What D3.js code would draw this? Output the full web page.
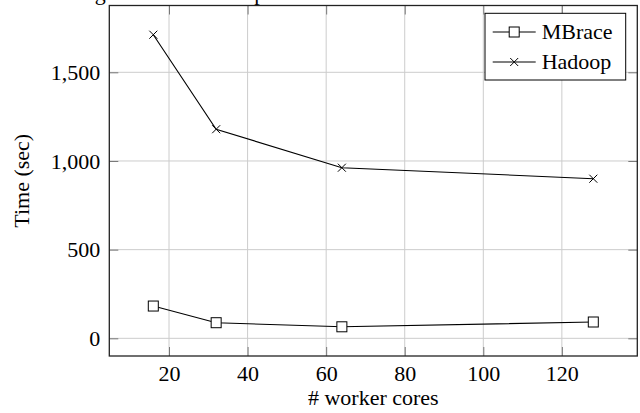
<!DOCTYPE html>
<html>
<head>
<meta charset="utf-8">
<script src="https://cdn.jsdelivr.net/npm/d3@7"></script>
<style>
  body { margin: 0; background: #fff; }
  svg text { font-family: "Liberation Serif", Tinos, "DejaVu Serif", "Noto Serif", serif !important; }
</style>
</head>
<body>
<div class="chart"></div>
<script>
// data
var cores = [16, 32, 64, 128];
var mbrace = [182, 88, 65, 92];
var hadoop = [1712, 1179, 962, 900];
var xTicks = [20, 40, 60, 80, 100, 120];
var yTicks = [0, 500, 1000, 1500];
var seriesNames = ['MBrace', 'Hadoop'];

var margin = { top: 5.5, right: 2.7, bottom: 57, left: 109.3 };
var width = 640 - margin.left - margin.right;
var height = 413 - margin.top - margin.bottom;

var svg = d3.select('.chart')
  .append('svg')
    .attr('width', 640)
    .attr('height', 413);

// title sits mostly above the page, only the descenders show
svg.append('text')
  .attr('x', 30)
  .attr('y', -0.5)
  .style('font-size', '22px')
  .text('Running times for Hadoop and MBrace');

var g = svg.append('g')
  .attr('transform', `translate(${margin.left}, ${margin.top})`);

// pgfplots style: enlarge limits by 10%
function enlarge(ext) {
  var pad = (ext[1] - ext[0]) * 0.1;
  return [ext[0] - pad, ext[1] + pad];
}

var xScale = d3.scaleLinear()
  .domain(enlarge(d3.extent(cores)))
  .range([0, width]);

var yScale = d3.scaleLinear()
  .domain(enlarge(d3.extent(mbrace.concat(hadoop))))
  .range([height, 0]);

// grid
g.append('g')
  .selectAll('line')
  .data(xTicks)
  .join('line')
    .attr('x1', d => xScale(d))
    .attr('x2', d => xScale(d))
    .attr('y1', 0)
    .attr('y2', height)
    .style('stroke', '#cccccc')
    .style('stroke-width', 1);

g.append('g')
  .selectAll('line')
  .data(yTicks)
  .join('line')
    .attr('x1', 0)
    .attr('x2', width)
    .attr('y1', d => yScale(d))
    .attr('y2', d => yScale(d))
    .style('stroke', '#cccccc')
    .style('stroke-width', 1);

// axes, ticks pointing inwards on all four sides
var fmt = d3.format(',');
var xAxis = d3.axisBottom(xScale).tickValues(xTicks).tickSize(-9).tickPadding(18);
var yAxis = d3.axisLeft(yScale).tickValues(yTicks).tickSize(-9).tickPadding(9).tickFormat(fmt);
var xTop = d3.axisTop(xScale).tickValues(xTicks).tickSize(-9).tickFormat('');
var yRight = d3.axisRight(yScale).tickValues(yTicks).tickSize(-9).tickFormat('');

var gx = g.append('g')
  .attr('transform', `translate(0, ${height})`)
  .call(xAxis);
var gy = g.append('g').call(yAxis);
var gxt = g.append('g').call(xTop);
var gyr = g.append('g')
  .attr('transform', `translate(${width}, 0)`)
  .call(yRight);

[gx, gy, gxt, gyr].forEach(function(a) {
  a.attr('font-family', null);
  a.select('.domain').remove();
  a.selectAll('.tick line').style('stroke', '#777').style('stroke-width', 1);
  a.selectAll('.tick text')
    .style('font-size', '22px')
    .style('fill', '#000');
});
gx.selectAll('.tick text').attr('dy', '0.3em');

// frame
g.append('rect')
  .attr('width', width)
  .attr('height', height)
  .style('fill', 'none')
  .style('stroke', '#222')
  .style('stroke-width', 1.3);

// lines
var line = d3.line()
  .x((d, i) => xScale(cores[i]))
  .y(d => yScale(d));

[mbrace, hadoop].forEach(function(vals) {
  g.append('path')
    .datum(vals)
    .attr('d', line)
    .style('fill', 'none')
    .style('stroke', '#000')
    .style('stroke-width', 1.1);
});

var sq = 10, cr = 4;
function square(sel) {
  sel.append('rect')
    .attr('x', -sq / 2)
    .attr('y', -sq / 2)
    .attr('width', sq)
    .attr('height', sq)
    .style('fill', '#fff')
    .style('stroke', '#000')
    .style('stroke-width', 1);
}
function cross(sel) {
  sel.append('path')
    .attr('d', `M${-cr},${-cr}L${cr},${cr}M${-cr},${cr}L${cr},${-cr}`)
    .style('stroke', '#000')
    .style('stroke-width', 1);
}

g.append('g')
  .selectAll('g')
  .data(mbrace)
  .join('g')
    .attr('transform', (d, i) => `translate(${xScale(cores[i])}, ${yScale(d)})`)
    .call(square);

g.append('g')
  .selectAll('g')
  .data(hadoop)
  .join('g')
    .attr('transform', (d, i) => `translate(${xScale(cores[i])}, ${yScale(d)})`)
    .call(cross);

// axis labels
svg.append('text')
  .attr('x', margin.left + width / 2)
  .attr('y', 405)
  .attr('text-anchor', 'middle')
  .style('font-size', '22px')
  .text('# worker cores');

svg.append('text')
  .attr('transform', `translate(29, ${margin.top + height / 2}) rotate(-90)`)
  .attr('text-anchor', 'middle')
  .style('font-size', '22px')
  .text('Time (sec)');

// legend
var legend = svg.append('g')
  .attr('transform', 'translate(485, 13.3)');

legend.append('rect')
  .attr('width', 140.7)
  .attr('height', 66.7)
  .style('fill', '#fff')
  .style('stroke', '#000')
  .style('stroke-width', 1);

var item = legend.selectAll('.item')
  .data(seriesNames)
  .join('g')
    .attr('class', 'item')
    .attr('transform', (d, i) => `translate(0, ${18.7 + i * 30})`);

item.append('line')
  .attr('x1', 7.7)
  .attr('x2', 50.7)
  .style('stroke', '#000')
  .style('stroke-width', 1.1);

item.append('g')
  .attr('transform', 'translate(29.2, 0)')
  .each(function(d, i) {
    if (i === 0) square(d3.select(this));
    else cross(d3.select(this));
  });

item.append('text')
  .attr('x', 56.7)
  .attr('dy', '0.33em')
  .style('font-size', '22px')
  .text(d => d);
</script>
</body>
</html>
